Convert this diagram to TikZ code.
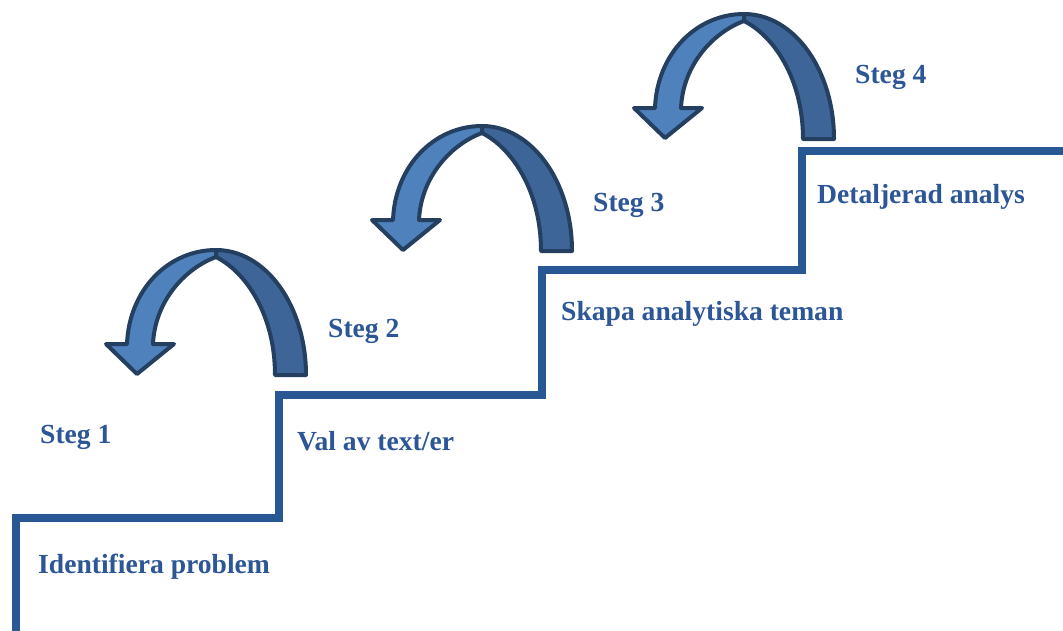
\documentclass[tikz,border=0pt]{standalone}
\usepackage{fontspec}
\setmainfont{Liberation Serif}
\definecolor{stairblue}{HTML}{285894}
\definecolor{textblue}{HTML}{2C5696}
\definecolor{lightfill}{HTML}{4F81BD}
\definecolor{darkfill}{HTML}{3D6598}
\definecolor{outline}{HTML}{243F60}
\tikzset{
  stair/.style={draw=stairblue, line width=8pt, line join=miter},
  lbl/.style={anchor=base west, inner sep=0pt, text=textblue, font=\fontsize{27.6}{32}\selectfont\bfseries},
  band/.style={draw=outline, line width=4pt, line join=round},
  pics/uturn/.style={code={
    \path[band, fill=darkfill] (90,125) .. controls (90,56) and (50,0) .. (0,0)
       -- (0,7) .. controls (30,22) and (59,65) .. (59,125) -- cycle;
    \path[band, fill=lightfill] (0,0) .. controls (-48,0) and (-87,40) .. (-89,94)
       -- (-110,94) -- (-79,124) -- (-42,94) -- (-63,94)
       .. controls (-61,50) and (-30,18) .. (0,7) -- cycle;
  }}
}
\begin{document}
\begin{tikzpicture}[x=1pt, y=-1pt]
\useasboundingbox[fill=white] (0,0) rectangle (1063,630);
% staircase
\draw[stair] (15.5,640) -- (15.5,517.5) -- (279,517.5) -- (279,395) -- (542,395)
  -- (542,270) -- (802,270) -- (802,151) -- (1075,151);
% curved arrows
\pic at (216,250) {uturn};
\pic at (482,126) {uturn};
\pic at (744,14) {uturn};
% labels
\node[lbl] (s1) at (40,443) {Steg 1};
\node[lbl] (t1) at (38,573) {Identifiera problem};
\node[lbl] (s2) at (328,337) {Steg 2};
\node[lbl] (t2) at (297,450) {Val av text/er};
\node[lbl] (s3) at (593,211) {Steg 3};
\node[lbl] (t3) at (561,320) {Skapa analytiska teman};
\node[lbl] (s4) at (855,83) {Steg 4};
\node[lbl] (t4) at (817,203) {Detaljerad analys};
\end{tikzpicture}
\end{document}
